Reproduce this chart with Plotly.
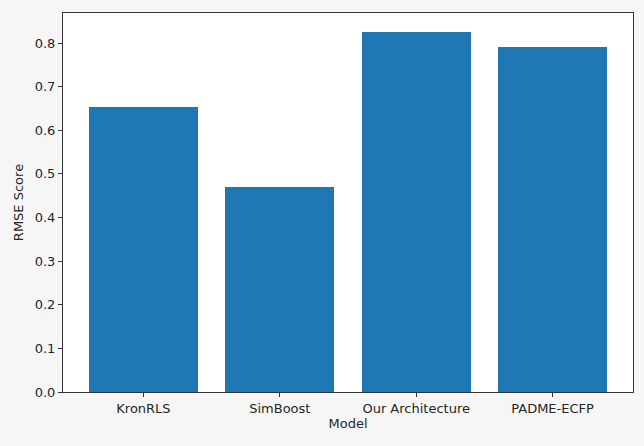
import plotly.graph_objects as go

models = ["KronRLS", "SimBoost", "Our Architecture", "PADME-ECFP"]
rmse = [0.654, 0.470, 0.826, 0.790]

fig = go.Figure()
fig.add_trace(go.Bar(
    x=list(range(len(models))), y=rmse,
    width=0.8, marker=dict(color="#1f77b4", line=dict(width=0)),
))

font = dict(family="DejaVu Sans", size=13, color="#262626")
fig.update_layout(
    width=644, height=446,
    margin=dict(l=63, r=11, t=13, b=54),
    paper_bgcolor="#f6f6f6", plot_bgcolor="white",
    font=font, showlegend=False,
    bargap=0,
)
fig.update_xaxes(
    range=[-0.59, 3.59], tickmode="array", tickvals=list(range(len(models))),
    ticktext=models, ticks="outside", ticklen=4, tickcolor="#333",
    showline=True, linecolor="#333", linewidth=1, mirror=True,
    showgrid=False, zeroline=False, automargin=False,
    title=dict(text="Model", font=font, standoff=4),
)
fig.update_yaxes(
    range=[0, 0.869], tickvals=[0, 0.1, 0.2, 0.3, 0.4, 0.5, 0.6, 0.7, 0.8],
    tickformat=".1f", ticks="outside", ticklen=4, tickcolor="#333",
    showline=True, linecolor="#333", linewidth=1, mirror=True,
    showgrid=False, zeroline=False, automargin=False,
    title=dict(text="RMSE Score", font=font, standoff=8),
)
fig.write_html(
    "out.html",
    config={"displayModeBar": False},
    post_script="document.body.style.margin='0';document.body.style.background='#f6f6f6';",
)
